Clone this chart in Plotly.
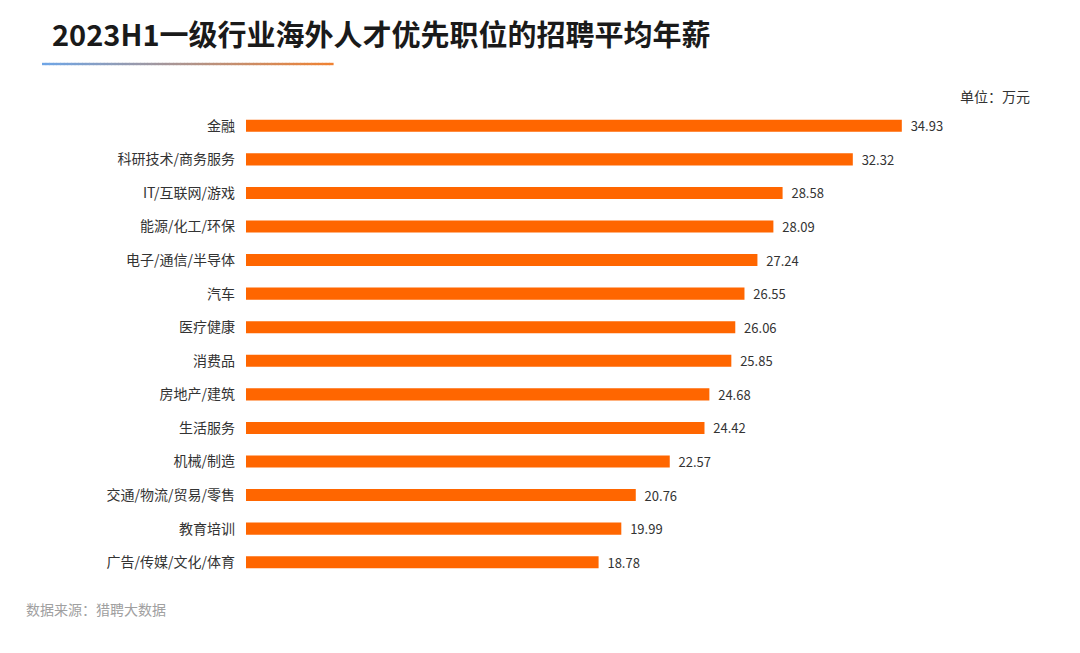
import plotly.graph_objects as go

categories = ["金融", "科研技术/商务服务", "IT/互联网/游戏", "能源/化工/环保", "电子/通信/半导体",
              "汽车", "医疗健康", "消费品", "房地产/建筑", "生活服务", "机械/制造",
              "交通/物流/贸易/零售", "教育培训", "广告/传媒/文化/体育"]
salaries = [34.93, 32.32, 28.58, 28.09, 27.24, 26.55, 26.06, 25.85, 24.68, 24.42, 22.57,
            20.76, 19.99, 18.78]

FONT = "Noto Sans CJK SC"

fig = go.Figure(go.Bar(
    x=salaries, y=categories, orientation="h",
    marker=dict(color="#FF6600", line=dict(width=0)),
    text=[f"{v:.2f}" for v in salaries],
    texttemplate="  %{text}",
    textposition="outside",
    constraintext="none",
    textfont=dict(size=13, color="#333333", family=FONT),
    cliponaxis=False,
))

W, H = 1080, 653
left, right = 246, 997
top, bottom = 109, 579


def px(x):
    return (x - left) / (right - left)


def py(y):
    return (bottom - y) / (bottom - top)


fig.update_layout(
    width=W, height=H,
    paper_bgcolor="white", plot_bgcolor="white",
    margin=dict(l=left, r=W - right, t=top, b=H - bottom, pad=0),
    bargap=0.64,
    showlegend=False,
    font=dict(family=FONT, color="#333333"),
    xaxis=dict(range=[0, 40], visible=False, fixedrange=True),
    yaxis=dict(autorange="reversed", showgrid=False, zeroline=False, showline=False,
               ticks="", ticklabelstandoff=10, fixedrange=True,
               tickfont=dict(size=14, color="#333333", family=FONT)),
)

fig.add_annotation(text="<b>2023H1一级行业海外人才优先职位的招聘平均年薪</b>",
                   xref="paper", yref="paper", x=px(50), y=py(33),
                   xanchor="left", yanchor="middle", showarrow=False,
                   font=dict(size=29, color="#1a1a1a", family=FONT))

# gradient underline
n = 80
x0, x1, yl = 42, 333, 64
c0 = (110, 165, 230)
c1 = (240, 130, 50)
for i in range(n):
    t = i / (n - 1)
    col = "rgb(%d,%d,%d)" % tuple(round(a + (b - a) * t) for a, b in zip(c0, c1))
    fig.add_shape(type="rect", xref="paper", yref="paper",
                  x0=px(x0 + (x1 - x0) * i / n),
                  x1=px(x0 + (x1 - x0) * (i + 1) / n + 0.6),
                  y0=py(yl - 1.2), y1=py(yl + 1.2),
                  fillcolor=col, line=dict(width=0), layer="above")

fig.add_annotation(text="单位：万元", xref="paper", yref="paper",
                   x=px(1032), y=py(96),
                   xanchor="right", yanchor="middle", showarrow=False,
                   font=dict(size=14, color="#333333", family=FONT))

fig.add_annotation(text="数据来源：猎聘大数据", xref="paper", yref="paper",
                   x=px(24), y=py(609),
                   xanchor="left", yanchor="middle", showarrow=False,
                   font=dict(size=14, color="#a0a0a0", family=FONT))

fig.write_html("out.html", post_script="document.body.style.margin='0';",
               config={"displayModeBar": False})
